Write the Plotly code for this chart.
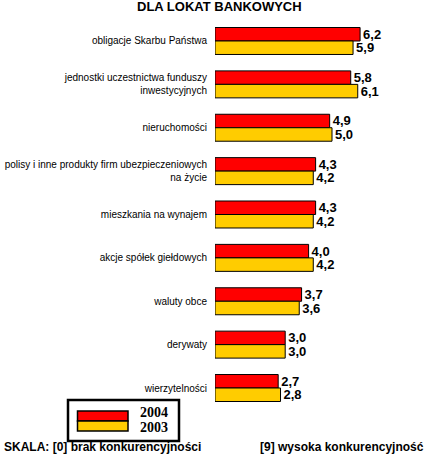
import plotly.graph_objects as go

W, H = 428, 454

categories = [
    "obligacje Skarbu Państwa",
    "jednostki uczestnictwa funduszy<br>inwestycyjnych",
    "nieruchomości",
    "polisy i inne produkty firm ubezpieczeniowych<br>na życie",
    "mieszkania na wynajem",
    "akcje spółek giełdowych",
    "waluty obce",
    "derywaty",
    "wierzytelności",
]
values_2004 = [6.2, 5.8, 4.9, 4.3, 4.3, 4.0, 3.7, 3.0, 2.7]
values_2003 = [5.9, 6.1, 5.0, 4.2, 4.2, 4.2, 3.6, 3.0, 2.8]
series_names = ["2004", "2003"]
series_colors = ["#FF0000", "#FFCC00"]
title_text = "DLA LOKAT BANKOWYCH"
scale_left = "SKALA: [0] brak konkurencyjności"
scale_right = "[9] wysoka konkurencyjność"

SANS = "Liberation Sans, Arial, sans-serif"
SERIF = "Liberation Serif, Times New Roman, serif"


def px(x):
    return x / W


def py(y):
    return 1 - y / H


fig = go.Figure()
for name, vals, color in zip(series_names, [values_2004, values_2003], series_colors):
    fig.add_trace(go.Bar(
        name=name,
        y=categories,
        x=vals,
        orientation="h",
        marker=dict(color=color, line=dict(color="black", width=1)),
        texttemplate="%{x:.1f}",
        textposition="outside",
        constraintext="none",
        cliponaxis=False,
        textfont=dict(family=SANS, size=13, color="black", weight=700),
        hoverinfo="skip",
    ))

# hand-drawn legend box, like the original
shapes = [
    dict(type="rect", xref="paper", yref="paper",
         x0=px(68), x1=px(179), y0=py(441), y1=py(400),
         line=dict(color="black", width=2.5), fillcolor="white"),
    dict(type="rect", xref="paper", yref="paper",
         x0=px(77.5), x1=px(128), y0=py(421), y1=py(411),
         line=dict(color="black", width=1.5), fillcolor=series_colors[0]),
    dict(type="rect", xref="paper", yref="paper",
         x0=px(77.5), x1=px(128), y0=py(431), y1=py(421),
         line=dict(color="black", width=1.5), fillcolor=series_colors[1]),
]

annotations = [
    dict(text=f"<b>{title_text}</b>", x=px(220), y=py(6.5), xref="paper", yref="paper",
         xanchor="center", yanchor="middle", showarrow=False,
         font=dict(family=SANS, size=13, color="black")),
    dict(text=f"<b>{series_names[0]}</b>", x=px(153.5), y=py(412.5), xref="paper", yref="paper",
         xanchor="center", yanchor="middle", showarrow=False,
         font=dict(family=SERIF, size=14, color="black")),
    dict(text=f"<b>{series_names[1]}</b>", x=px(153.5), y=py(427), xref="paper", yref="paper",
         xanchor="center", yanchor="middle", showarrow=False,
         font=dict(family=SERIF, size=14, color="black")),
    dict(text=f"<b>{scale_left}</b>", x=px(2), y=py(446.5), xref="paper", yref="paper",
         xanchor="left", yanchor="middle", showarrow=False,
         font=dict(family=SANS, size=12, color="black")),
    dict(text=f"<b>{scale_right}</b>", x=px(426), y=py(446.5), xref="paper", yref="paper",
         xanchor="right", yanchor="middle", showarrow=False,
         font=dict(family=SANS, size=12, color="black")),
]

fig.update_layout(
    width=W, height=H,
    margin=dict(l=0, r=0, t=0, b=0),
    paper_bgcolor="white", plot_bgcolor="white",
    barmode="group", bargap=0.378, bargroupgap=0,
    separators=", ",
    showlegend=False,
    shapes=shapes,
    annotations=annotations,
    xaxis=dict(domain=[px(215), px(425.6)], range=[0, 9], visible=False),
    yaxis=dict(domain=[py(409.7), py(19.3)], autorange="reversed",
               showgrid=False, showline=False, zeroline=False, ticks="",
               ticklabelstandoff=7, automargin=False,
               tickfont=dict(family=SANS, size=10, color="black")),
)

# page body has an 8px default margin; drop it so the chart sits at 0,0
fig.write_html("out.html", config={"displayModeBar": False},
               post_script="document.body.style.margin='0';")
